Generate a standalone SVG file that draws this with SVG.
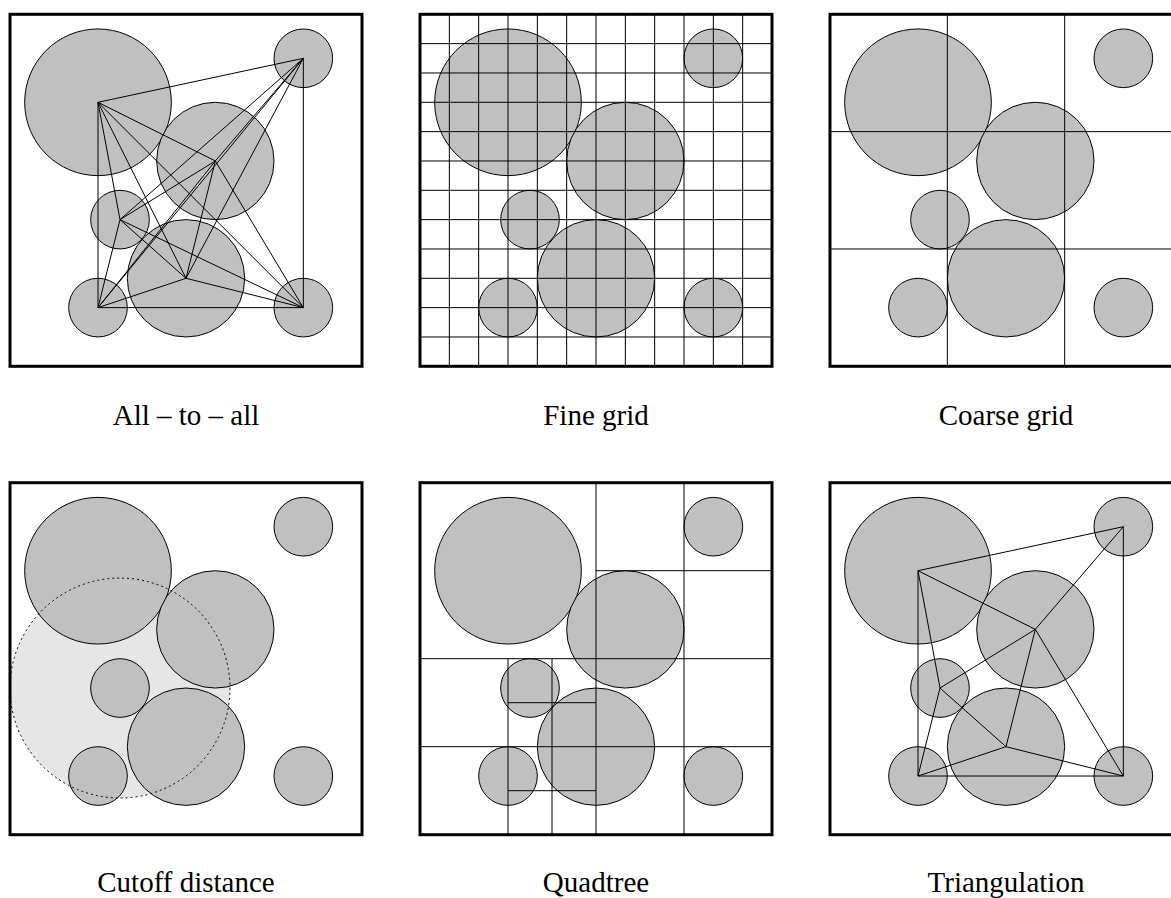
<svg xmlns="http://www.w3.org/2000/svg" width="1171" height="898" viewBox="0 0 1171 898">
<style>
.bg{fill:#ffffff;stroke:none}
.box{fill:none;stroke:#000;stroke-width:3}
.disk{fill:#c0c0c0;stroke:#000;stroke-width:1}
.ln{fill:none;stroke:#000;stroke-width:1}
.halo{fill:#e6e6e6;stroke:none}
.dot{fill:none;stroke:#000;stroke-width:1;stroke-dasharray:2 3}
.lbl{font-family:"Liberation Serif","Times New Roman",serif;font-size:29px;fill:#000;text-anchor:middle}
</style>
<rect width="1171" height="898" fill="#fff"/>

<!-- Panel 1: All-to-all -->
<g id="panel-all-to-all" transform="translate(10,14.3)">
  <rect class="bg" width="352" height="352"/>
  <circle class="disk" cx="88" cy="88" r="73.33"/>
  <circle class="disk" cx="293.33" cy="44" r="29.33"/>
  <circle class="disk" cx="205.33" cy="146.67" r="58.67"/>
  <circle class="disk" cx="110" cy="205.33" r="29.33"/>
  <circle class="disk" cx="176" cy="264" r="58.67"/>
  <circle class="disk" cx="88" cy="293.33" r="29.33"/>
  <circle class="disk" cx="293.33" cy="293.33" r="29.33"/>
  <g id="edges-all">
  <path class="ln" d="M88 88L293.33 44M88 88L205.33 146.67M88 88L110 205.33M88 88L176 264M88 88L88 293.33M88 88L293.33 293.33M293.33 44L205.33 146.67M293.33 44L110 205.33M293.33 44L176 264M293.33 44L88 293.33M293.33 44L293.33 293.33M205.33 146.67L110 205.33M205.33 146.67L176 264M205.33 146.67L88 293.33M205.33 146.67L293.33 293.33M110 205.33L176 264M110 205.33L88 293.33M110 205.33L293.33 293.33M176 264L88 293.33M176 264L293.33 293.33M88 293.33L293.33 293.33"/>
  </g>
  <rect class="box" width="352" height="352"/>
</g>
<text class="lbl" x="186" y="425">All – to – all</text>

<!-- Panel 2: Fine grid -->
<g id="panel-fine-grid" transform="translate(420,14.3)">
  <rect class="bg" width="352" height="352"/>
  <circle class="disk" cx="88" cy="88" r="73.33"/>
  <circle class="disk" cx="293.33" cy="44" r="29.33"/>
  <circle class="disk" cx="205.33" cy="146.67" r="58.67"/>
  <circle class="disk" cx="110" cy="205.33" r="29.33"/>
  <circle class="disk" cx="176" cy="264" r="58.67"/>
  <circle class="disk" cx="88" cy="293.33" r="29.33"/>
  <circle class="disk" cx="293.33" cy="293.33" r="29.33"/>
  <path class="ln" d="M29.33 0V352M58.67 0V352M88 0V352M117.33 0V352M146.67 0V352M176 0V352M205.33 0V352M234.67 0V352M264 0V352M293.33 0V352M322.67 0V352M0 29.33H352M0 58.67H352M0 88H352M0 117.33H352M0 146.67H352M0 176H352M0 205.33H352M0 234.67H352M0 264H352M0 293.33H352M0 322.67H352"/>
  <rect class="box" width="352" height="352"/>
</g>
<text class="lbl" x="596" y="425">Fine grid</text>

<!-- Panel 3: Coarse grid -->
<g id="panel-coarse-grid" transform="translate(830,14.3)">
  <rect class="bg" width="352" height="352"/>
  <circle class="disk" cx="88" cy="88" r="73.33"/>
  <circle class="disk" cx="293.33" cy="44" r="29.33"/>
  <circle class="disk" cx="205.33" cy="146.67" r="58.67"/>
  <circle class="disk" cx="110" cy="205.33" r="29.33"/>
  <circle class="disk" cx="176" cy="264" r="58.67"/>
  <circle class="disk" cx="88" cy="293.33" r="29.33"/>
  <circle class="disk" cx="293.33" cy="293.33" r="29.33"/>
  <path class="ln" d="M117.33 0V352M234.67 0V352M0 117.33H352M0 234.67H352"/>
  <rect class="box" width="352" height="352"/>
</g>
<text class="lbl" x="1006" y="425">Coarse grid</text>

<!-- Panel 4: Cutoff distance -->
<g id="panel-cutoff" transform="translate(10,482.7)">
  <rect class="bg" width="352" height="352"/>
  <circle class="halo" cx="110" cy="205.33" r="110"/>
  <circle class="disk" cx="88" cy="88" r="73.33"/>
  <circle class="disk" cx="293.33" cy="44" r="29.33"/>
  <circle class="disk" cx="205.33" cy="146.67" r="58.67"/>
  <circle class="disk" cx="110" cy="205.33" r="29.33"/>
  <circle class="disk" cx="176" cy="264" r="58.67"/>
  <circle class="disk" cx="88" cy="293.33" r="29.33"/>
  <circle class="disk" cx="293.33" cy="293.33" r="29.33"/>
  <circle class="dot" cx="110" cy="205.33" r="110"/>
  <rect class="box" width="352" height="352"/>
</g>
<text class="lbl" x="186" y="891.5">Cutoff distance</text>

<!-- Panel 5: Quadtree -->
<g id="panel-quadtree" transform="translate(420,482.7)">
  <rect class="bg" width="352" height="352"/>
  <circle class="disk" cx="88" cy="88" r="73.33"/>
  <circle class="disk" cx="293.33" cy="44" r="29.33"/>
  <circle class="disk" cx="205.33" cy="146.67" r="58.67"/>
  <circle class="disk" cx="110" cy="205.33" r="29.33"/>
  <circle class="disk" cx="176" cy="264" r="58.67"/>
  <circle class="disk" cx="88" cy="293.33" r="29.33"/>
  <circle class="disk" cx="293.33" cy="293.33" r="29.33"/>
  <path class="ln" d="M176 0V352M264 0V352M176 88H352M0 176H352M0 264H352M88 176V352M132 176V352M88 220H176M88 308H176"/>
  <rect class="box" width="352" height="352"/>
</g>
<text class="lbl" x="596" y="891.5">Quadtree</text>

<!-- Panel 6: Triangulation -->
<g id="panel-triangulation" transform="translate(830,482.7)">
  <rect class="bg" width="352" height="352"/>
  <circle class="disk" cx="88" cy="88" r="73.33"/>
  <circle class="disk" cx="293.33" cy="44" r="29.33"/>
  <circle class="disk" cx="205.33" cy="146.67" r="58.67"/>
  <circle class="disk" cx="110" cy="205.33" r="29.33"/>
  <circle class="disk" cx="176" cy="264" r="58.67"/>
  <circle class="disk" cx="88" cy="293.33" r="29.33"/>
  <circle class="disk" cx="293.33" cy="293.33" r="29.33"/>
  <g id="edges-tri">
  <path class="ln" d="M88 88L293.33 44M88 88L88 293.33M88 88L110 205.33M88 88L205.33 146.67M293.33 44L205.33 146.67M293.33 44L293.33 293.33M205.33 146.67L110 205.33M205.33 146.67L176 264M205.33 146.67L293.33 293.33M110 205.33L88 293.33M110 205.33L176 264M176 264L88 293.33M176 264L293.33 293.33M88 293.33L293.33 293.33"/>
  </g>
  <rect class="box" width="352" height="352"/>
</g>
<text class="lbl" x="1006" y="891.5">Triangulation</text>
</svg>
